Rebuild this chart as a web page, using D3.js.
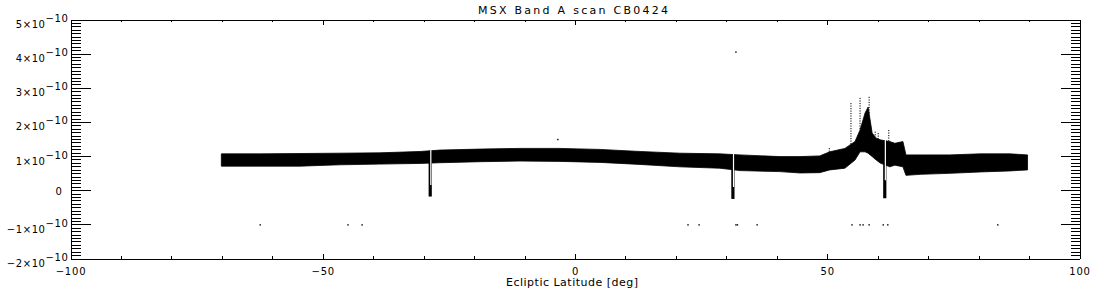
<!DOCTYPE html>
<html><head><meta charset="utf-8">
<script src="https://cdn.jsdelivr.net/npm/d3@7"></script>
<style>
body{margin:0;background:#fff}
svg text{font-family:"DejaVu Sans",sans-serif;fill:#000}
</style>
</head><body>
<svg id="c" width="1100" height="300"></svg>
<script>
// ---------- data (values in units of 1e-10) ----------
const UNIT = 1e-10;
const title = "MSX Band A scan CB0424";
const xLabel = "Ecliptic Latitude [deg]";
const xTicks = [-100, -50, 0, 50, 100];
const xTickLabels = ["\u2212100", "\u221250", "0", "50", "100"];
const yTicks = [-2, -1, 0, 1, 2, 3, 4, 5];
const yTickMantissa = ["\u22122", "\u22121", "0", "1", "2", "3", "4", "5"];
const yTickExponent = "\u221210";

// noisy signal band: latitude, lower and upper envelope
const bandLat = [-70, -62.3, -54.4, -46.5, -38.6, -30.6, -26.7, -18.7, -10.8, -2.9, 5.1, 13.0, 20.9, 28.8, 32.8, 40.7, 44.7, 48.6, 50.6, 53.6, 55.6, 56.6, 57.6, 58.2, 59.0, 59.8, 60.6, 62.5, 63.5, 65.1, 65.7, 68.5, 74.4, 80.4, 86.3, 89.8];
const bandHi  = [1.05, 1.05, 1.06, 1.07, 1.08, 1.12, 1.16, 1.19, 1.21, 1.21, 1.18, 1.12, 1.07, 1.05, 1.02, 0.97, 0.97, 0.99, 1.11, 1.21, 1.41, 1.75, 2.25, 2.42, 1.66, 1.51, 1.46, 1.41, 1.36, 1.41, 1.02, 1.02, 1.02, 1.05, 1.05, 1.02];
const bandLo  = [0.69, 0.69, 0.69, 0.73, 0.75, 0.77, 0.79, 0.82, 0.84, 0.83, 0.80, 0.74, 0.67, 0.63, 0.56, 0.53, 0.49, 0.50, 0.58, 0.63, 0.87, 1.11, 1.11, 1.07, 0.97, 0.87, 0.78, 0.67, 0.72, 0.67, 0.42, 0.45, 0.48, 0.52, 0.55, 0.58];

// dips (data gaps / negative excursions)
const dipLat    = [-28.6, 31.4, 61.5];
const dipMin    = [-0.20, -0.27, -0.25];
const dipGapEnd = [0.14, 0.08, 0.28];

// spikes above the band near the peak
const spikeLat = [50.5, 54.8, 56.6, 58.4, 59.6, 60.2, 62.3];
const spikeTop = [1.22, 2.54, 2.69, 2.72, 1.70, 1.66, 1.75];

// isolated points
const dotLat = [-62.3, -44.9, -42.1, 22.5, 24.7, 32.0, 32.3, 36.2, 55.0, 56.6, 57.2, 58.4, 61.2, 62.1, 83.9, 32.0, -3.3];
const dotVal = [-1.03, -1.03, -1.03, -1.03, -1.03, -1.03, -1.03, -1.03, -1.03, -1.03, -1.03, -1.03, -1.03, -1.03, -1.03, 4.03, 1.47];

// ---------- chart ----------
const L = 70, R = 1079, T = 19, B = 258;
const svg = d3.select("#c");
const x = d3.scaleLinear().domain([-100, 100]).range([L, R]);
const y = d3.scaleLinear().domain([-2 * UNIT, 5 * UNIT]).range([B, T]);
const hiAt = d3.scaleLinear().domain(bandLat).range(bandHi);

const plot = svg.append("g");

// band
const area = d3.area()
  .x((d, i) => x(bandLat[i]))
  .y0((d, i) => y(bandLo[i] * UNIT))
  .y1((d, i) => y(bandHi[i] * UNIT));
plot.append("path").datum(bandLat).attr("d", area)
  .attr("fill", "#000").attr("stroke", "#000").attr("stroke-width", 0.8);

// spikes
spikeLat.forEach((lat, i) => {
  plot.append("line")
    .attr("x1", x(lat)).attr("x2", x(lat))
    .attr("y1", y(spikeTop[i] * UNIT)).attr("y2", y(hiAt(lat) * UNIT))
    .attr("stroke", "#000").attr("stroke-width", 1).attr("stroke-dasharray", "1.2,1.3");
});

// dips
dipLat.forEach((lat, i) => {
  plot.append("line")
    .attr("x1", x(lat)).attr("x2", x(lat))
    .attr("y1", y(hiAt(lat) * UNIT)).attr("y2", y(dipMin[i] * UNIT))
    .attr("stroke", "#000").attr("stroke-width", 3.2);
  plot.append("line")
    .attr("x1", x(lat) + 0.6).attr("x2", x(lat) + 0.6)
    .attr("y1", y(hiAt(lat) * UNIT) - 2).attr("y2", y(dipGapEnd[i] * UNIT))
    .attr("stroke", "#fff").attr("stroke-width", 1.2);
});

// dots
plot.selectAll("rect.dot").data(dotLat).join("rect").attr("class", "dot")
  .attr("x", (d) => x(d) - 0.7).attr("y", (d, i) => y(dotVal[i] * UNIT) - 0.7)
  .attr("width", 1.4).attr("height", 1.4).attr("fill", "#000");

// ---------- axes ----------
const ax = svg.append("g").attr("transform", "translate(0.5,0.5)")
  .attr("shape-rendering", "crispEdges");
const yMajor = yTicks.map(v => v * UNIT);
const yMinor = d3.range(-20, 51).map(v => v * UNIT / 10);
const xMinor = d3.range(-100, 101, 10);

function styleAxis(sel) {
  sel.selectAll("path.domain").attr("stroke", "#000");
  sel.selectAll("line").attr("stroke", "#000");
  sel.selectAll("text").remove();
}

ax.append("g").attr("transform", `translate(${L},0)`)
  .call(d3.axisLeft(y).tickValues(yMinor).tickSize(-10).tickSizeOuter(0).tickFormat(""))
  .call(styleAxis);
const yl = ax.append("g").attr("transform", `translate(${L},0)`)
  .call(d3.axisLeft(y).tickValues(yMajor).tickSize(-20).tickSizeOuter(0).tickFormat(""))
  .call(styleAxis);
ax.append("g").attr("transform", `translate(${R},0)`)
  .call(d3.axisRight(y).tickValues(yMinor).tickSize(-9).tickSizeOuter(0).tickFormat(""))
  .call(styleAxis);
ax.append("g").attr("transform", `translate(${R},0)`)
  .call(d3.axisRight(y).tickValues(yMajor).tickSize(-19).tickSizeOuter(0).tickFormat(""))
  .call(styleAxis);

ax.append("g").attr("transform", `translate(0,${B})`)
  .call(d3.axisBottom(x).tickValues(xMinor).tickSize(-2.5).tickSizeOuter(0).tickFormat(""))
  .call(styleAxis);
const xl = ax.append("g").attr("transform", `translate(0,${B})`)
  .call(d3.axisBottom(x).tickValues(xTicks).tickSize(-5).tickSizeOuter(0).tickFormat(""))
  .call(styleAxis);
ax.append("g").attr("transform", `translate(0,${T})`)
  .call(d3.axisTop(x).tickValues(xMinor).tickSize(-2.5).tickSizeOuter(0).tickFormat(""))
  .call(styleAxis);
ax.append("g").attr("transform", `translate(0,${T})`)
  .call(d3.axisTop(x).tickValues(xTicks).tickSize(-5).tickSizeOuter(0).tickFormat(""))
  .call(styleAxis);

// y tick labels with superscript exponent
yl.selectAll("g.tick").each(function (d, i) {
  const t = d3.select(this).append("text")
    .attr("text-anchor", "end").attr("font-size", 10).attr("letter-spacing", 0.6);
  if (yTickMantissa[i] === "0") {
    t.attr("x", -8).attr("y", 4).text("0");
  } else {
    t.attr("x", -2).attr("y", 8);
    t.append("tspan").text(yTickMantissa[i] + "\u00d710");
    t.append("tspan").attr("dy", -6).text(yTickExponent);
  }
});

// x tick labels
xl.selectAll("g.tick").each(function (d, i) {
  d3.select(this).append("text")
    .attr("text-anchor", "middle").attr("font-size", 10).attr("letter-spacing", 0.8)
    .attr("y", 16).text(xTickLabels[i]);
});

// title and axis label
svg.append("text").attr("x", 573).attr("y", 14).attr("text-anchor", "middle")
  .attr("font-size", 11).attr("textLength", 190).attr("lengthAdjust", "spacing").text(title);
svg.append("text").attr("x", 572).attr("y", 286).attr("text-anchor", "middle")
  .attr("font-size", 11).attr("textLength", 132).attr("lengthAdjust", "spacing").text(xLabel);
</script>
</body></html>
